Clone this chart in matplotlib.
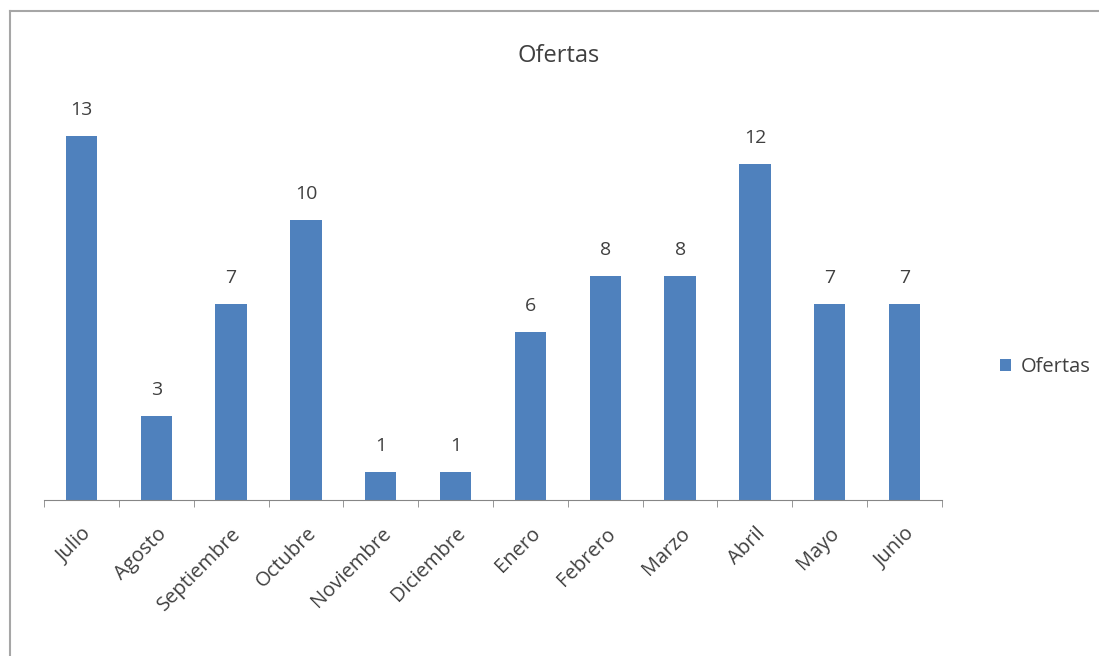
import matplotlib.pyplot as plt
from matplotlib.lines import Line2D
import numpy as np

plt.rcParams['font.family'] = ['Open Sans', 'DejaVu Sans']

# data
meses = ['Julio', 'Agosto', 'Septiembre', 'Octubre', 'Noviembre', 'Diciembre',
         'Enero', 'Febrero', 'Marzo', 'Abril', 'Mayo', 'Junio']
ofertas = [13, 3, 7, 10, 1, 1, 6, 8, 8, 12, 7, 7]

W, H = 1099, 656
BAR_COLOR = '#4F81BD'
TXT = '#404040'

fig = plt.figure(figsize=(W / 100, H / 100), dpi=100)
ax = fig.add_axes([44 / W, (H - 500) / H, (942 - 44) / W, (500 - 108) / H])

x = np.arange(len(meses))
bars = ax.bar(x, ofertas, width=0.42, color=BAR_COLOR, label='Ofertas', zorder=2)

# value labels above bars
for xi, v in zip(x, ofertas):
    ax.text(xi, v + 0.6, str(v), ha='center', va='bottom', fontsize=14, color=TXT)

ax.set_xlim(-0.5, len(meses) - 0.5)
ax.set_ylim(0, 14)
ax.set_yticks([])

# category labels, rotated like excel
ax.set_xticks(x)
ax.set_xticklabels(meses, rotation=45, ha='right', rotation_mode='anchor',
                   fontsize=14.5, color=TXT)
ax.tick_params(axis='x', which='major', length=0, pad=17)
ax.set_xticks(np.arange(-0.5, len(meses)), minor=True)
ax.tick_params(axis='x', which='minor', length=5, color='#868686', direction='out')

for s in ['top', 'right', 'left']:
    ax.spines[s].set_visible(False)
ax.spines['bottom'].set_color('#868686')

fig.text(559 / W, 1 - 56 / H, 'Ofertas', ha='center', va='center', fontsize=17, color=TXT)

leg = fig.legend(handles=[bars], labels=['Ofertas'], loc='center left',
                 bbox_to_anchor=(982 / W, 1 - 367 / H), frameon=False,
                 fontsize=14.5, handlelength=0.55, handleheight=0.55, handletextpad=0.45)
for t in leg.get_texts():
    t.set_color(TXT)

# chart border (only top and left visible in crop)
fig.add_artist(Line2D([9.5 / W, 1], [1 - 10.5 / H, 1 - 10.5 / H], color='#a6a6a6', lw=1.5))
fig.add_artist(Line2D([9.5 / W, 9.5 / W], [0, 1 - 10.5 / H], color='#a6a6a6', lw=1.5))

fig.savefig('out.png', dpi=100)
